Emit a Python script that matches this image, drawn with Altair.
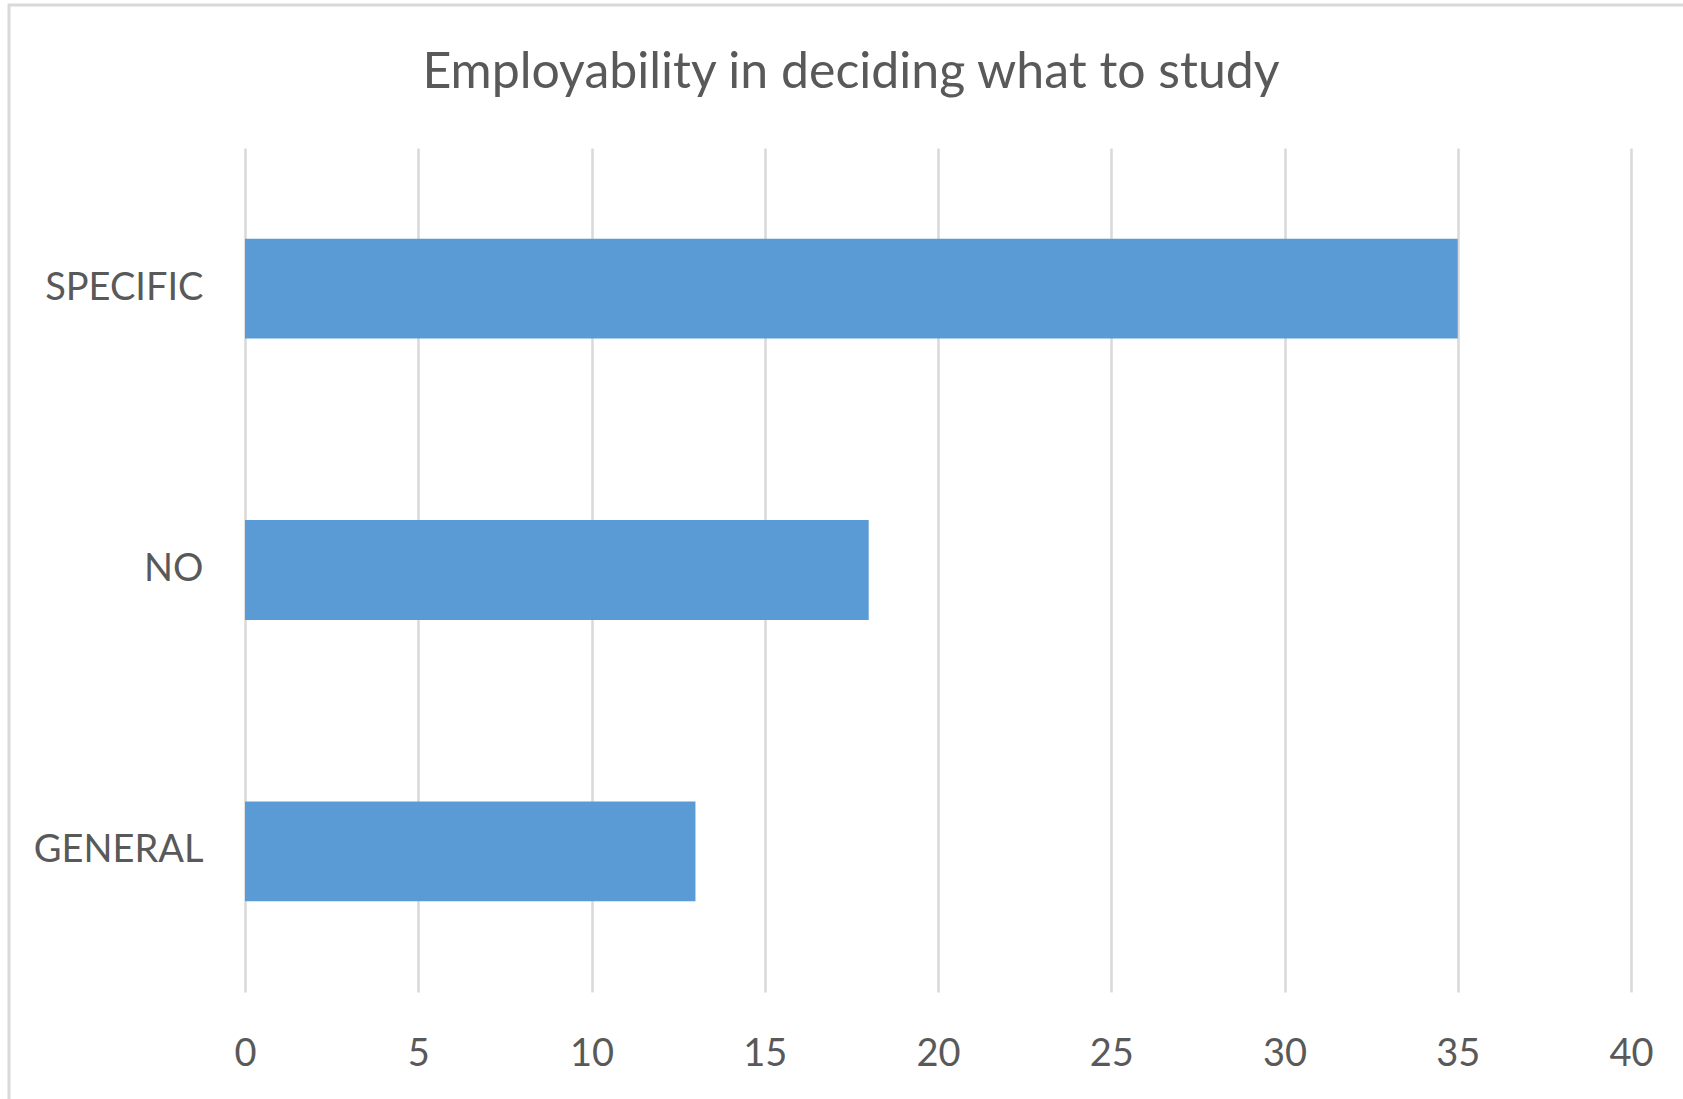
import altair as alt
import pandas as pd

categories = ["SPECIFIC", "NO", "GENERAL"]
values = [35, 18, 13]
x_ticks = [0, 5, 10, 15, 20, 25, 30, 35, 40]
title_text = "Employability in deciding what to study"

df = pd.DataFrame({"category": categories, "value": values})
frame_df = pd.DataFrame({"k": [0]})

FONT = "Lato"
TXT = "#595959"
GRID = "#d9d9d9"

bars = alt.Chart(df).mark_bar(color="#5b9bd5").encode(
    y=alt.Y(
        "category:N",
        sort=categories,
        scale=alt.Scale(paddingInner=0.645, paddingOuter=0.3225),
        axis=alt.Axis(
            title=None, domain=False, ticks=False, labelFontSize=38,
            labelColor=TXT, labelFont=FONT, labelPadding=42,
        ),
    ),
    x=alt.X(
        "value:Q",
        scale=alt.Scale(domain=[0, 40], nice=False),
        axis=alt.Axis(
            title=None, values=x_ticks, domain=False, ticks=False,
            grid=True, gridColor=GRID, gridWidth=2.5,
            labelFontSize=38, labelColor=TXT, labelFont=FONT,
            labelPadding=43, labelFlush=False,
        ),
    ),
)

frame = alt.Chart(frame_df).mark_rect(
    fill=None, stroke=GRID, strokeWidth=3
).encode(
    x=alt.value(-236), x2=alt.value(1700),
    y=alt.value(-143), y2=alt.value(1000),
)

chart = alt.layer(frame, bars).properties(
    width=1386,
    height=844,
    title=alt.TitleParams(
        title_text, fontSize=50, font=FONT, color=TXT,
        fontWeight="normal", anchor="middle", frame="group",
        baseline="alphabetic", offset=0, dy=134, dx=-87,
    ),
    padding={"left": 245, "top": 148, "right": 52, "bottom": 107},
    autosize=alt.AutoSizeParams(type="none"),
).configure(background="white").configure_view(strokeWidth=0, stroke=None)

chart.save("out.html", embed_options={"renderer": "svg", "actions": False})
